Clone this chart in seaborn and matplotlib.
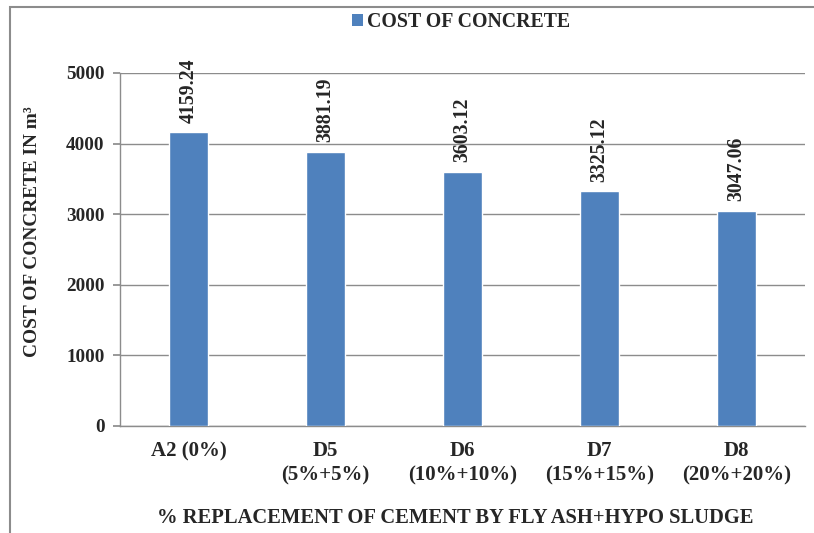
import matplotlib
matplotlib.use("Agg")
import matplotlib.pyplot as plt
from matplotlib.patches import Patch, Rectangle
import seaborn as sns
import pandas as pd

categories = ["A2 (0%)", "D5\n(5%+5%)", "D6\n(10%+10%)", "D7\n(15%+15%)", "D8\n(20%+20%)"]
costs = [4159.24, 3881.19, 3603.12, 3325.12, 3047.06]
value_labels = ["4159.24", "3881.19", "3603.12", "3325.12", "3047.06"]
series_name = "COST OF CONCRETE"
y_ticks = [0, 1000, 2000, 3000, 4000, 5000]

sns.set_theme(style="white")
plt.rcParams['font.family'] = ['Liberation Serif', 'DejaVu Serif']
plt.rcParams['font.weight'] = 'bold'

bar_color = "#4F81BD"
grid_color = "#8C8C8C"

df = pd.DataFrame({"cat": categories, "cost": costs})

fig = plt.figure(figsize=(8.14, 5.33), dpi=100)
ax = fig.add_axes([120/814, 1-426/533, (805-120)/814, (426-73)/533])

sns.barplot(data=df, x="cat", y="cost", color=bar_color, width=0.28,
            saturation=1, ax=ax, zorder=3)

ax.set_ylim(0, 5000)
ax.set_xlim(-0.5, len(categories)-0.5)
ax.set_yticks(y_ticks)
ax.set_yticklabels([str(t) for t in y_ticks], fontsize=13.8, fontweight='bold')
ax.set_xticklabels(categories, fontsize=15, fontweight='bold', linespacing=1.3)
ax.yaxis.grid(True, color=grid_color, linewidth=1, zorder=0)
ax.xaxis.grid(False)
for s in ["top", "right"]:
    ax.spines[s].set_visible(False)
for s in ["left", "bottom"]:
    ax.spines[s].set_color(grid_color)
    ax.spines[s].set_linewidth(1)
ax.tick_params(axis='y', length=5, color=grid_color, pad=6, left=True)
ax.tick_params(axis='x', length=0, pad=11)
for lbl in ax.get_xticklabels():
    lbl.set_verticalalignment('top')

for i, (v, t) in enumerate(zip(costs, value_labels)):
    ax.annotate(t, (i, v), xytext=(0, 7), textcoords='offset points',
                rotation=90, ha='center', va='bottom', fontsize=14.3, fontweight='bold')

ax.set_xlabel("% REPLACEMENT OF CEMENT BY FLY ASH+HYPO SLUDGE", fontsize=14.8,
              fontweight='bold', labelpad=16)
ax.xaxis.label.set_x((455-120)/685)
ax.set_ylabel("COST OF CONCRETE IN m³", fontsize=13.9, fontweight='bold', labelpad=18)
ax.yaxis.label.set_y((426-232)/353)

fig.legend(handles=[Patch(facecolor=bar_color, edgecolor='none', label=series_name)],
           loc='center', bbox_to_anchor=(461/814, 1-22/533), frameon=False,
           handlelength=0.55, handleheight=0.55, handletextpad=0.2,
           prop={'family': 'Liberation Serif', 'weight': 'bold', 'size': 14.3})

fig.patches.append(Rectangle((10/814, -0.1), 1.2, (1-7/533)+0.1, transform=fig.transFigure,
                             fill=False, edgecolor='#8C8C8C', linewidth=1.5))

fig.savefig("out.png", dpi=100)
